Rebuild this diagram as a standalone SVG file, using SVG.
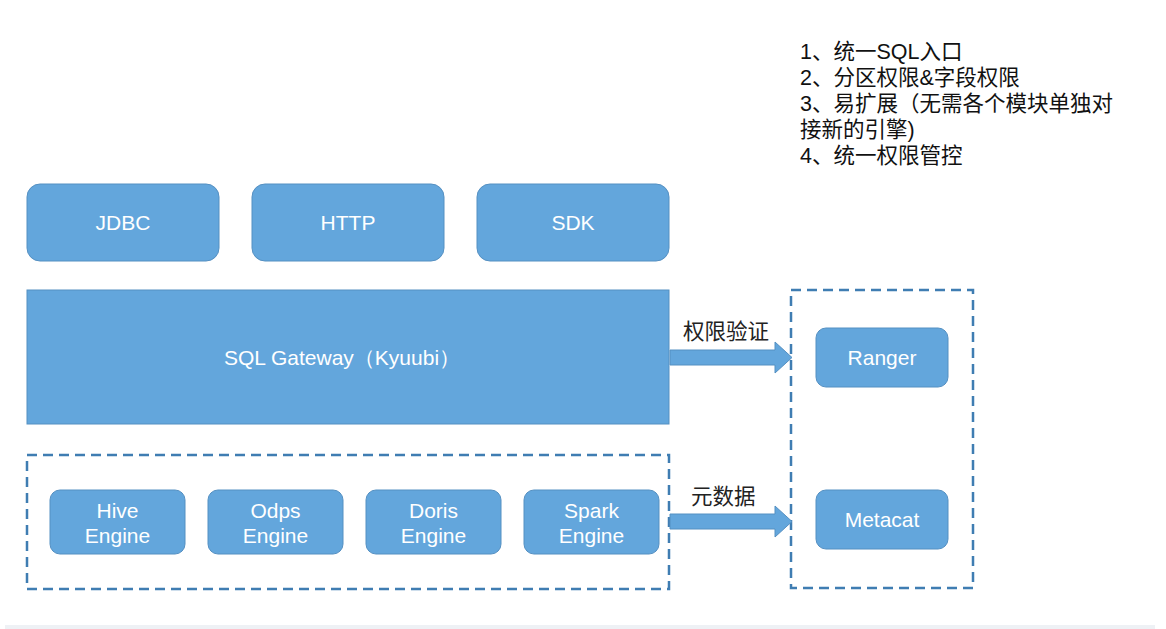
<svg xmlns="http://www.w3.org/2000/svg" width="1166" height="629" viewBox="0 0 1166 629">
<style>
.n{fill:#63a6dc;stroke:#5590c2;stroke-width:1}
.t{font-family:"Liberation Sans",Arial,sans-serif;font-size:21px;fill:#ffffff;text-anchor:middle}
.d{fill:none;stroke:#3f7db2;stroke-width:2.5;stroke-dasharray:10 6}
.a{fill:#63a6dc;stroke:#5590c2;stroke-width:1}
.lb{font-family:"Liberation Serif","Noto Sans CJK SC",serif;font-size:21.5px;fill:#222}
.li{font-family:"Liberation Sans","Noto Sans CJK SC",sans-serif;font-size:21.5px;fill:#111}
</style>
<rect width="1166" height="629" fill="#ffffff"/>
<rect x="5" y="625" width="1150" height="4" fill="#eef1f5"/>
<g id="notes" class="li">
<text x="800" y="59">1、统一SQL入口</text>
<text x="800" y="85">2、分区权限&amp;字段权限</text>
<text x="800" y="111">3、易扩展（无需各个模块单独对</text>
<text x="800" y="137">接新的引擎)</text>
<text x="800" y="163">4、统一权限管控</text>
</g>
<g id="jdbc"><rect class="n" x="27" y="184" width="192" height="77" rx="13"/><text class="t" x="123" y="230">JDBC</text></g>
<g id="http"><rect class="n" x="252" y="184" width="192" height="77" rx="13"/><text class="t" x="348" y="230">HTTP</text></g>
<g id="sdk"><rect class="n" x="477" y="184" width="192" height="77" rx="13"/><text class="t" x="573" y="230">SDK</text></g>
<g id="gateway"><rect class="n" x="27" y="290" width="642" height="134"/><text class="t" x="342" y="365">SQL Gateway（Kyuubi）</text></g>
<g id="engines"><rect class="d" x="27" y="455" width="642" height="134"/></g>
<g id="hive"><rect class="n" x="50" y="490" width="135" height="64" rx="10"/><text class="t" x="117.5" y="518">Hive</text><text class="t" x="117.5" y="543">Engine</text></g>
<g id="odps"><rect class="n" x="208" y="490" width="135" height="64" rx="10"/><text class="t" x="275.5" y="518">Odps</text><text class="t" x="275.5" y="543">Engine</text></g>
<g id="doris"><rect class="n" x="366" y="490" width="135" height="64" rx="10"/><text class="t" x="433.5" y="518">Doris</text><text class="t" x="433.5" y="543">Engine</text></g>
<g id="spark"><rect class="n" x="524" y="490" width="135" height="64" rx="10"/><text class="t" x="591.5" y="518">Spark</text><text class="t" x="591.5" y="543">Engine</text></g>
<g id="services"><rect class="d" x="791" y="290" width="182" height="298"/></g>
<g id="ranger"><rect class="n" x="816" y="328" width="132" height="59" rx="10"/><text class="t" x="882" y="365">Ranger</text></g>
<g id="metacat"><rect class="n" x="816" y="490" width="132" height="59" rx="10"/><text class="t" x="882" y="527">Metacat</text></g>
<g id="connectors">
<path class="a" d="M670 350 H775 V342 L792 357.5 L775 373 V365 H670 Z"/>
<text class="lb" x="683" y="339">权限验证</text>
<path class="a" d="M670 514 H775 V506 L792 521.5 L775 537 V529 H670 Z"/>
<text class="lb" x="691" y="504">元数据</text>
</g>
</svg>
